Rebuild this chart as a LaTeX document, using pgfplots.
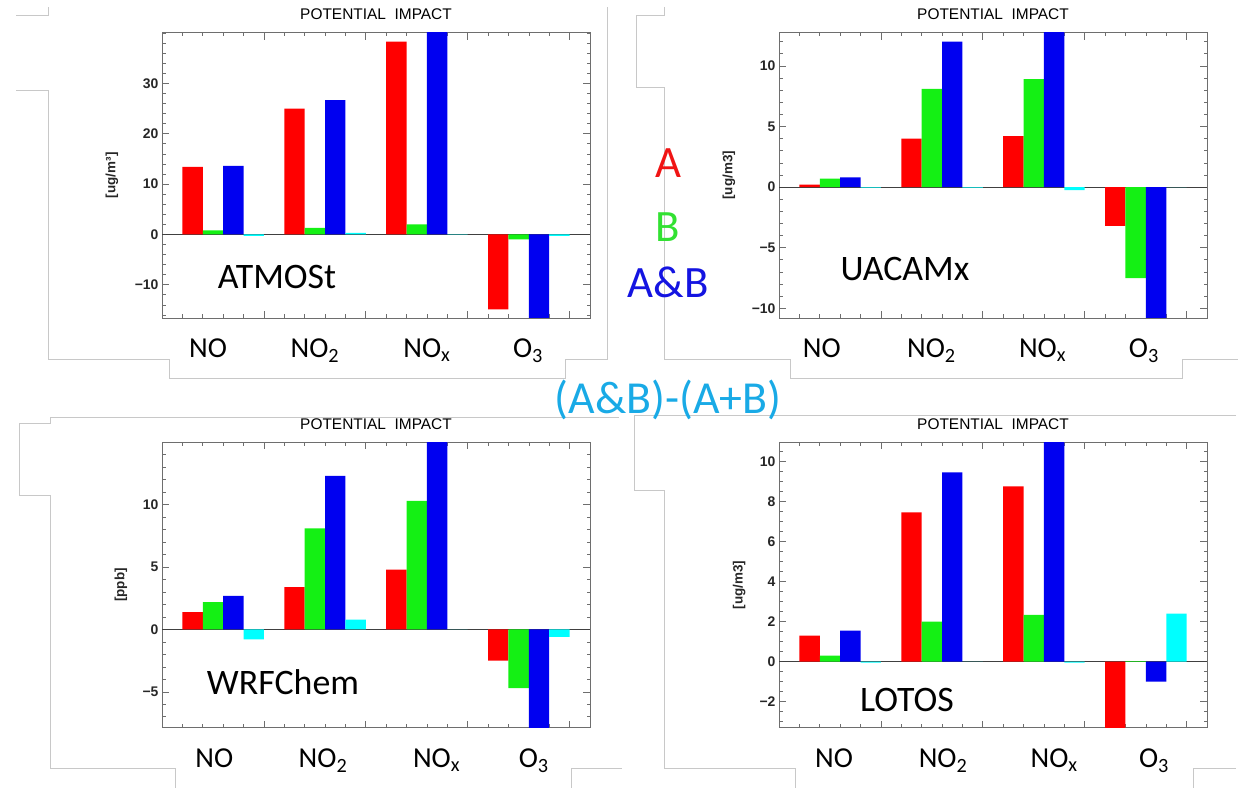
\documentclass[border=0pt]{standalone}
\usepackage{fontspec}
\setmainfont{Carlito}
\newfontfamily\idl{Liberation Sans}
\usepackage{pgfplots}
\usepackage{pgfplotstable}
\pgfplotsset{compat=1.18}

\definecolor{barA}{RGB}{255,0,0}
\definecolor{barB}{RGB}{20,240,20}
\definecolor{barAB}{RGB}{0,0,240}
\definecolor{barD}{RGB}{0,255,255}
\definecolor{axgray}{RGB}{110,110,110}
\definecolor{framegray}{RGB}{200,200,200}
\definecolor{txtA}{RGB}{240,20,20}
\definecolor{txtB}{RGB}{50,225,50}
\definecolor{txtAB}{RGB}{20,20,225}
\definecolor{txtD}{RGB}{25,170,230}

% pos = left bar centre of each group (A), B/AB/diff follow at +1,+2,+3
\pgfplotstableread{
pos A B AB D
1.5 13.4 0.8 13.6 -0.3
6.5 25.0 1.3 26.7 0.3
11.5 38.3 2.0 45 0.05
16.5 -14.9 -1.0 -20 -0.3
}\atmost
\pgfplotstableread{
pos A B AB D
1.5 0.2 0.7 0.8 -0.05
6.5 4.0 8.1 12.0 -0.05
11.5 4.2 8.9 14 -0.25
16.5 -3.2 -7.5 -12 0
}\uacamx
\pgfplotstableread{
pos A B AB D
1.5 1.4 2.2 2.7 -0.8
6.5 3.4 8.1 12.3 0.8
11.5 4.8 10.3 16 0
16.5 -2.5 -4.7 -9 -0.6
}\wrfchem
\pgfplotstableread{
pos A B AB D
1.5 1.3 0.3 1.55 -0.05
6.5 7.45 2.0 9.45 0
11.5 8.75 2.33 12 -0.05
16.5 -4 0.03 -1.0 2.4
}\lotos

\pgfplotsset{
  impact/.style={
    scale only axis, width=428bp, height=285.4bp,
    xmin=0, xmax=21,
    xtick={5,10,15,20}, xticklabels={},
    minor xtick={1,...,20},
    tick align=inside, tick pos=both,
    major tick length=7bp, minor tick length=3.5bp,
    axis line style={draw=axgray, line width=0.9bp},
    tick style={draw=axgray, line width=0.7bp},
    title={POTENTIAL\ \ IMPACT},
    title style={font=\idl\fontsize{15.5}{15.5}\selectfont, at={(axis description cs:0.5,1)}, anchor=center, yshift=12.5bp},
    yticklabel style={font=\idl\bfseries\fontsize{14}{14}\selectfont, text=black!85},
    ylabel style={font=\idl\bfseries\fontsize{13.5}{13.5}\selectfont, anchor=center, text=black!85},
    extra x tick style={major tick length=0pt, tick style={draw=none},
      xticklabel style={font=\fontsize{29}{29}\selectfont, anchor=base, yshift=-40bp}},
    extra x tick labels={NO, NO\textsubscript{2}, NO\textsubscript{x}, O\textsubscript{3}},
    extra y ticks={0}, extra y tick labels={},
    extra y tick style={grid=major, major grid style={draw=black!75, line width=1bp}, tick style={draw=none}},
  },
  bars/.style={ybar, bar width=1, draw=none, fill=#1},
}

\newcommand{\fourbars}[1]{%
  \addplot[bars=barA] table[x=pos, y=A] {#1};
  \addplot[bars=barB] table[x expr=\thisrow{pos}+1, y=B] {#1};
  \addplot[bars=barAB] table[x expr=\thisrow{pos}+2, y=AB] {#1};
  \addplot[bars=barD] table[x expr=\thisrow{pos}+3, y=D] {#1};
}

\begin{document}
\begin{tikzpicture}
\useasboundingbox (0,0) rectangle (1238bp,788bp);

% light frames of the pasted panels (image coordinates, y down)
\begin{scope}[shift={(0bp,788bp)}, x=1bp, y=-1bp, framegray, line width=0.8bp]
  \draw (16,15) -- (48,15) -- (48,7);
  \draw (16,90) -- (48,90) -- (48,359) -- (169,359) -- (169,378) -- (565,378) -- (565,359) -- (607,359) -- (607,7);
  \draw (664,7) -- (664,15) -- (636,15) -- (636,87) -- (664,87) -- (664,359) -- (790,359) -- (790,378) -- (1182,378) -- (1182,359) -- (1238,359);
  \draw (19,495) -- (50,495) -- (50,768) -- (175,768) -- (175,788);
  \draw (19,495) -- (19,423) -- (50,423) -- (50,417) -- (619,417);
  \draw (571,788) -- (571,768) -- (622,768);
  \draw (1236,415) -- (634,415) -- (634,490) -- (664,490) -- (664,768) -- (795,768) -- (795,788);
  \draw (1193,788) -- (1193,768) -- (1236,768);
\end{scope}

\begin{axis}[impact, at={(162bp,470bp)}, anchor=south west,
  ymin=-16.6, ymax=40.1,
  ytick={-10,0,10,20,30}, yticklabels={−10,0,10,20,30},
  minor ytick={-16,-14,...,40},
  ylabel={[ug/m³]}, ylabel style={at={(axis description cs:-0.117,0.5)}},
  extra x ticks={2.26,7.5,13,17.96}]
  \fourbars{\atmost}
\end{axis}

\begin{axis}[impact, at={(779bp,470bp)}, anchor=south west,
  ymin=-10.8, ymax=12.75,
  ytick={-10,-5,0,5,10}, yticklabels={−10,−5,0,5,10},
  minor ytick={-10,...,12},
  ylabel={[ug/m3]}, ylabel style={at={(axis description cs:-0.117,0.5)}},
  extra x ticks={2.1,7.48,12.93,17.9}]
  \fourbars{\uacamx}
\end{axis}

\begin{axis}[impact, at={(162bp,60.3bp)}, anchor=south west,
  ymin=-7.87, ymax=15.0,
  ytick={-5,0,5,10}, yticklabels={−5,0,5,10},
  minor ytick={-7,...,15},
  ylabel={[ppb]}, ylabel style={at={(axis description cs:-0.096,0.5)}},
  extra x ticks={2.57,7.9,13.47,18.24}]
  \fourbars{\wrfchem}
\end{axis}

\begin{axis}[impact, at={(779bp,60.3bp)}, anchor=south west,
  ymin=-3.3, ymax=10.95,
  ytick={-2,0,2,4,6,8,10}, yticklabels={−2,0,2,4,6,8,10},
  minor ytick={-3,-2.5,...,11},
  ylabel={[ug/m3]}, ylabel style={at={(axis description cs:-0.093,0.5)}},
  extra x ticks={2.7,8.05,13.5,18.4}]
  \fourbars{\lotos}
\end{axis}

% model names and legend words
\begin{scope}[shift={(0bp,788bp)}, x=1bp, y=-1bp]
  \node[font=\fontsize{36}{36}\selectfont] at (277,277) {ATMOSt};
  \node[font=\fontsize{36}{36}\selectfont] at (905,269) {UACAMx};
  \node[font=\fontsize{36}{36}\selectfont] at (283,682) {WRFChem};
  \node[font=\fontsize{36}{36}\selectfont] at (907,700) {LOTOS};
  \node[font=\fontsize{45}{45}\selectfont, text=txtA] at (668,163) {A};
  \node[font=\fontsize{45}{45}\selectfont, text=txtB] at (668,227) {B};
  \node[font=\fontsize{45}{45}\selectfont, text=txtAB] at (668,282) {A\&B};
  \node[font=\fontsize{46}{46}\selectfont, text=txtD] at (668,400) {(A\&B)-(A+B)};
\end{scope}
\end{tikzpicture}
\end{document}
